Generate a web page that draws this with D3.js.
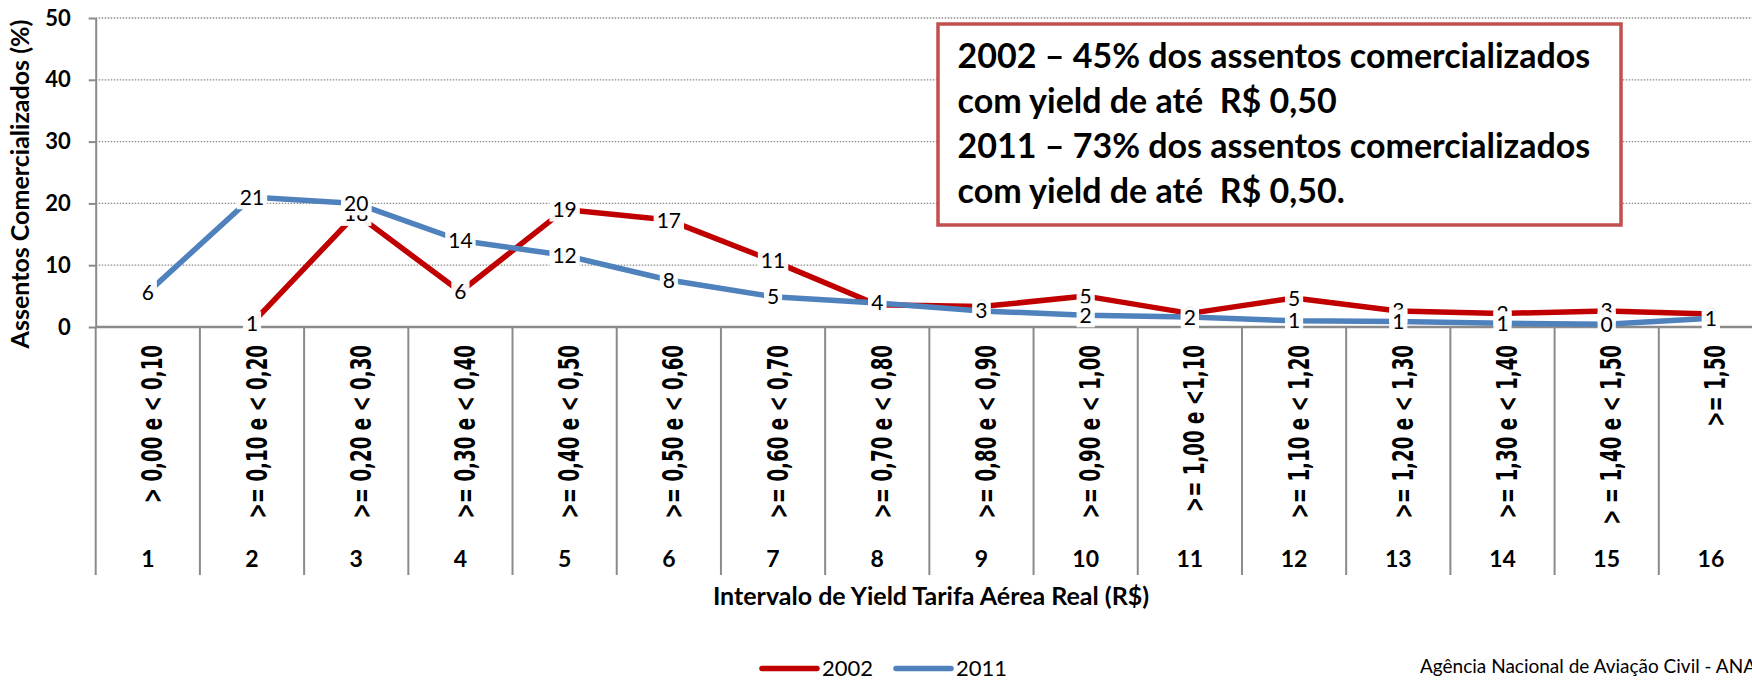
<!DOCTYPE html>
<html>
<head>
<meta charset="utf-8">
<script src="https://cdn.jsdelivr.net/npm/d3@7"></script>
<style>
  body { margin: 0; background: #fff; }
  svg { display: block; }
  .calibri { font-family: Lato, "Open Sans", sans-serif; }
</style>
</head>
<body>
<div class="container"></div>
<script>
// categories and their yield ranges
const categories = ['1', '2', '3', '4', '5', '6', '7', '8', '9', '10', '11', '12', '13', '14', '15', '16'];
const rangeLabels = ['> 0,00 e < 0,10', '>= 0,10 e < 0,20', '>= 0,20 e < 0,30', '>= 0,30 e < 0,40',
  '>= 0,40 e < 0,50', '>= 0,50 e < 0,60', '>= 0,60 e < 0,70', '>= 0,70 e < 0,80',
  '>= 0,80 e < 0,90', '>= 0,90 e < 1,00', '>= 1,00 e <1,10', '>= 1,10 e < 1,20',
  '>= 1,20 e < 1,30', '>= 1,30 e < 1,40', '> = 1,40 e < 1,50', '>= 1,50'];
// % of seats sold per interval
const values2002 = [null, 0.6, 18.3, 5.7, 19.0, 17.3, 10.7, 3.6, 3.3, 5.0, 2.2, 4.7, 2.6, 2.2, 2.6, 2.1];
const values2011 = [5.6, 21.0, 20.0, 14.0, 11.6, 7.6, 4.9, 3.9, 2.6, 1.9, 1.6, 1.0, 0.9, 0.6, 0.45, 1.4];
const yTicks = [0, 10, 20, 30, 40, 50];
const boxLines = ['2002 \u2013 45% dos assentos comercializados', 'com yield de at\u00e9  R$ 0,50',
  '2011 \u2013 73% dos assentos comercializados', 'com yield de at\u00e9  R$ 0,50.'];

const series = [
  {name: '2002', color: '#C00000', values: values2002},
  {name: '2011', color: '#4F81BD', values: values2011}
];

const W = 1752, H = 680;
const plotLeft = 95.7, plotRight = 1763, plotTop = 18, plotBottom = 327;
const grey = '#8a8a8a';

const svg = d3.select('.container').append('svg')
  .attr('width', W).attr('height', H);

const xScale = d3.scaleBand().domain(categories).range([plotLeft, plotRight]).padding(0);
const yScale = d3.scaleLinear().domain([0, 50]).range([plotBottom, plotTop]);
const cx = c => xScale(c) + xScale.bandwidth() / 2;

// dotted gridlines
svg.append('g')
  .selectAll('line')
  .data(yTicks.filter(t => t > 0))
  .enter().append('line')
  .attr('x1', plotLeft).attr('x2', plotRight)
  .attr('y1', d => yScale(d)).attr('y2', d => yScale(d))
  .style('stroke', grey).style('stroke-width', 1.3)
  .style('stroke-dasharray', '1.5,1.5');

// y axis
const yAxis = svg.append('g')
  .attr('transform', `translate(${plotLeft},0)`)
  .call(d3.axisLeft(yScale).tickValues(yTicks).tickSize(7).tickSizeOuter(0).tickPadding(18));
yAxis.select('.domain').style('stroke', grey).style('stroke-width', 2);
yAxis.selectAll('.tick line').style('stroke', grey).style('stroke-width', 2);
yAxis.selectAll('.tick text')
  .attr('class', 'calibri')
  .style('font-size', '22px').style('font-weight', 'bold').style('fill', '#000');

// x axis line and category separators
svg.append('line')
  .attr('x1', plotLeft).attr('x2', plotRight)
  .attr('y1', plotBottom).attr('y2', plotBottom)
  .style('stroke', grey).style('stroke-width', 2.5);
const bounds = categories.map(c => xScale(c)).concat([plotRight]);
svg.append('g')
  .selectAll('line')
  .data(bounds)
  .enter().append('line')
  .attr('x1', d => d).attr('x2', d => d)
  .attr('y1', plotBottom).attr('y2', 575)
  .style('stroke', grey).style('stroke-width', 2);

// rotated range labels
svg.append('g')
  .selectAll('text')
  .data(categories)
  .enter().append('text')
  .attr('transform', d => `translate(${cx(d) + 14.5},345) rotate(-90) scale(0.64,1)`)
  .attr('text-anchor', 'end')
  .style('font-family', '"DejaVu Sans", Verdana, sans-serif')
  .style('font-weight', 'bold').style('font-size', '28.5px')
  .text((d, i) => rangeLabels[i]);

// category numbers
svg.append('g')
  .selectAll('text')
  .data(categories)
  .enter().append('text')
  .attr('class', 'calibri')
  .attr('x', d => cx(d)).attr('y', 566.7)
  .attr('text-anchor', 'middle')
  .style('font-weight', 'bold').style('font-size', '23px')
  .text(d => d);

// axis titles
svg.append('text')
  .attr('class', 'calibri')
  .attr('x', 931).attr('y', 605)
  .attr('text-anchor', 'middle')
  .style('font-weight', 'bold').style('font-size', '25px')
  .text('Intervalo de Yield Tarifa A\u00e9rea Real (R$)');
svg.append('text')
  .attr('class', 'calibri')
  .attr('transform', 'translate(29,184) rotate(-90)')
  .attr('text-anchor', 'middle')
  .style('font-weight', 'bold').style('font-size', '25px')
  .text('Assentos Comercializados (%)');

// lines
const line = d3.line()
  .defined(d => d[1] != null)
  .x(d => cx(d[0]))
  .y(d => yScale(d[1]));
svg.append('g')
  .selectAll('path')
  .data(series)
  .enter().append('path')
  .attr('d', s => line(categories.map((c, i) => [c, s.values[i]])))
  .style('fill', 'none')
  .style('stroke', s => s.color)
  .style('stroke-width', 5.5)
  .style('stroke-linejoin', 'round');

// data labels with white halos
series.forEach(s => {
  const pts = categories.map((c, i) => [c, s.values[i]]).filter(d => d[1] != null);
  const g = svg.append('g').selectAll('g')
    .data(pts)
    .enter().append('g')
    .attr('transform', d => `translate(${cx(d[0])},${yScale(d[1])})`);
  const txt = g.append('text')
    .attr('class', 'calibri')
    .attr('text-anchor', 'middle')
    .attr('dy', '0.36em')
    .style('font-size', '21px')
    .text(d => d3.format('.0f')(d[1]));
  txt.each(function() {
    const b = this.getBBox();
    d3.select(this.parentNode).insert('rect', 'text')
      .attr('x', b.x - 3).attr('y', -12)
      .attr('width', b.width + 6).attr('height', 24)
      .style('fill', '#fff').style('opacity', 0.95);
  });
});

// annotation box
svg.append('rect')
  .attr('x', 938).attr('y', 24)
  .attr('width', 683).attr('height', 201)
  .style('fill', '#fff')
  .style('stroke', '#C0504D').style('stroke-width', 3.5);
svg.append('g')
  .selectAll('text')
  .data(boxLines)
  .enter().append('text')
  .attr('class', 'calibri')
  .attr('x', 957.6)
  .attr('y', (d, i) => 68.3 + i * 45)
  .style('white-space', 'pre')
  .style('font-weight', 'bold').style('font-size', '34px')
  .text(d => d);

// legend
const legend = svg.append('g')
  .selectAll('g')
  .data(series)
  .enter().append('g')
  .attr('transform', (d, i) => `translate(${762 + i * 134},668.5)`);
legend.append('line')
  .attr('x1', 0).attr('x2', 55)
  .style('stroke', d => d.color).style('stroke-width', 5.5)
  .style('stroke-linecap', 'round');
legend.append('text')
  .attr('class', 'calibri')
  .attr('x', 60).attr('y', 7)
  .style('font-size', '22px')
  .text(d => d.name);

// source (runs past the right edge, as in the original)
svg.append('text')
  .attr('class', 'calibri')
  .attr('x', 1420).attr('y', 673)
  .style('font-size', '19px')
  .text('Ag\u00eancia Nacional de Avia\u00e7\u00e3o Civil - ANAC');
</script>
</body>
</html>
